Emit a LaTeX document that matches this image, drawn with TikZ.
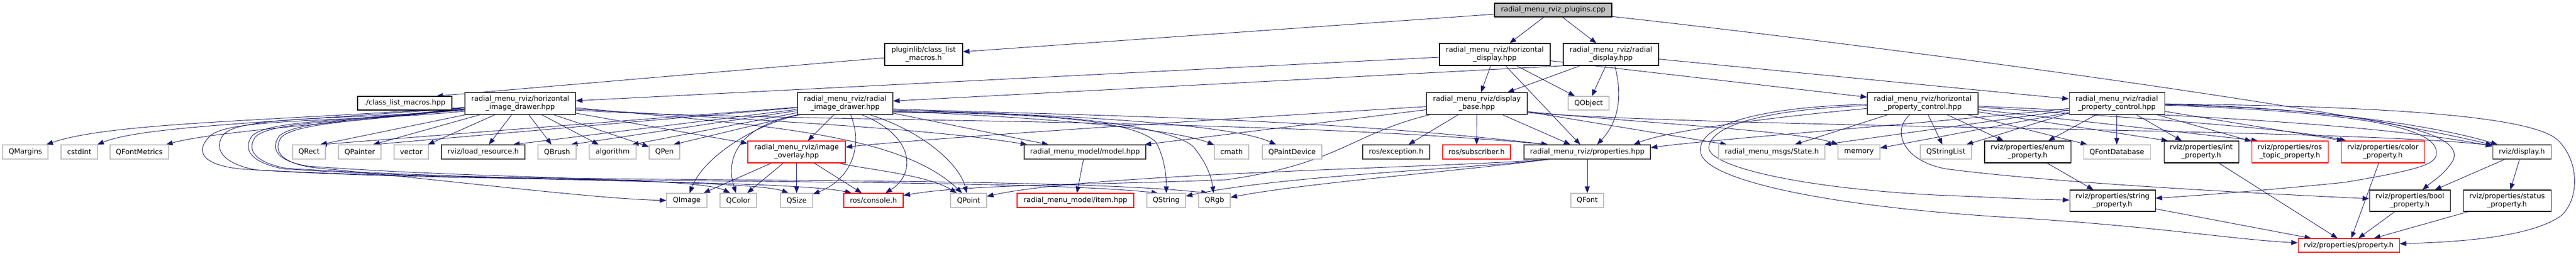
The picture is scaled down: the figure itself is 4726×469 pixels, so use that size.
\documentclass[tikz,border=0pt]{standalone}
\usepackage{fontspec}
\setmainfont{DejaVu Sans}
\usetikzlibrary{arrows.meta}
\definecolor{edgec}{HTML}{191970}
\definecolor{grayb}{HTML}{BFBFBF}
\definecolor{darkb}{HTML}{404040}
\definecolor{redb}{HTML}{FF0000}
\pgfdeclarelayer{bg}
\pgfsetlayers{bg,main}
\newcommand\mk[7]{\node[#1,minimum width=#5,minimum height=#6] (#2) at (#3,#4) {#7};}
\begin{document}
\begin{tikzpicture}[x=1pt,y=-1pt,
  nb/.style={draw, line width=1.1pt, inner sep=0pt, align=center, fill=white,
             font=\fontsize{13}{15}\selectfont},
  gn/.style={nb, draw=grayb},
  dn/.style={nb, draw=darkb},
  bn/.style={nb, draw=black},
  rn/.style={nb, draw=redb},
  rootn/.style={nb, draw=black, fill=grayb},
  dep/.style={draw=edgec, line width=0.9pt, -{Triangle[length=12pt,width=9pt]}}]
\useasboundingbox (0,0) rectangle (4726,469);
% row 0 / 1
\mk{rootn}{p}{2849.5}{18.5}{215}{25}{radial\_menu\_rviz\_plugins.cpp}
\mk{bn}{pl}{1694.5}{100}{143}{40}{pluginlib/class\_list\\\_macros.h}
\mk{bn}{hd}{2742.5}{100}{203}{40}{radial\_menu\_rviz/horizontal\\\_display.hpp}
\mk{bn}{rd}{2955.5}{100}{175}{40}{radial\_menu\_rviz/radial\\\_display.hpp}
% row 2
\mk{bn}{clm}{742.5}{189.5}{173}{25}{./class\_list\_macros.hpp}
\mk{gn}{qo}{2914.5}{189.5}{75}{25}{QObject}
\mk{dn}{hid}{954.5}{190}{203}{40}{radial\_menu\_rviz/horizontal\\\_image\_drawer.hpp}
\mk{dn}{rid}{1550.5}{190}{175}{40}{radial\_menu\_rviz/radial\\\_image\_drawer.hpp}
\mk{dn}{db}{2709.5}{190}{185}{40}{radial\_menu\_rviz/display\\\_base.hpp}
\mk{dn}{hpc}{3527.5}{190}{203}{40}{radial\_menu\_rviz/horizontal\\\_property\_control.hpp}
\mk{dn}{rpc}{3883.5}{190}{175}{40}{radial\_menu\_rviz/radial\\\_property\_control.hpp}
% row 3
\mk{gn}{qmargins}{46.5}{279}{83}{26}{QMargins}
\mk{gn}{cstdint}{145.5}{279}{67}{26}{cstdint}
\mk{gn}{qfm}{255.5}{279}{107}{26}{QFontMetrics}
\mk{gn}{qrect}{567}{279}{60}{26}{QRect}
\mk{gn}{qpainter}{660}{279}{78}{26}{QPainter}
\mk{gn}{vector}{754.5}{279}{63}{26}{vector}
\mk{dn}{lr}{886.5}{279}{153}{26}{rviz/load\_resource.h}
\mk{gn}{qbrush}{1022}{279}{70}{26}{QBrush}
\mk{gn}{algorithm}{1124}{279}{86}{26}{algorithm}
\mk{gn}{qpen}{1219}{279}{56}{26}{QPen}
\mk{rn}{io}{1461.5}{279}{179}{40}{radial\_menu\_rviz/image\\\_overlay.hpp}
\mk{dn}{model}{1990.5}{279}{223}{26}{radial\_menu\_model/model.hpp}
\mk{gn}{cmath}{2259.5}{279}{63}{26}{cmath}
\mk{gn}{qpd}{2370.5}{279}{109}{26}{QPaintDevice}
\mk{dn}{exc}{2561.5}{279}{123}{26}{ros/exception.h}
\mk{rn}{sub}{2709}{279}{124}{26}{ros/subscriber.h}
\mk{dn}{props}{2912}{279}{232}{26}{radial\_menu\_rviz/properties.hpp}
\mk{gn}{state}{3250.5}{279}{195}{26}{radial\_menu\_msgs/State.h}
\mk{gn}{memory}{3410.5}{279}{77}{26}{memory}
\mk{gn}{qsl}{3570}{279}{94}{26}{QStringList}
\mk{bn}{enum}{3720}{279}{158}{40}{rviz/properties/enum\\\_property.h}
\mk{gn}{qfd}{3883.5}{279}{123}{26}{QFontDatabase}
\mk{bn}{int}{4038.5}{279}{137}{40}{rviz/properties/int\\\_property.h}
\mk{rn}{ros}{4201}{279}{140}{40}{rviz/properties/ros\\\_topic\_property.h}
\mk{rn}{color}{4371.5}{279}{153}{40}{rviz/properties/color\\\_property.h}
\mk{dn}{disp}{4626.5}{279}{107}{26}{rviz/display.h}
% row 4
\mk{gn}{qimage}{1260}{368}{74}{26}{QImage}
\mk{gn}{qcolor}{1354.5}{368}{67}{26}{QColor}
\mk{gn}{qsize}{1461.5}{368}{59}{26}{QSize}
\mk{rn}{console}{1602.5}{368}{109}{26}{ros/console.h}
\mk{gn}{qpoint}{1777}{368}{66}{26}{QPoint}
\mk{rn}{item}{1973}{368}{214}{26}{radial\_menu\_model/item.hpp}
\mk{gn}{qstring}{2139.5}{368}{71}{26}{QString}
\mk{gn}{qrgb}{2228}{368}{58}{26}{QRgb}
\mk{gn}{qfont}{2912}{368}{60}{26}{QFont}
\mk{bn}{string}{3875.5}{368.5}{157}{39}{rviz/properties/string\\\_property.h}
\mk{bn}{bool}{4421}{368.5}{148}{39}{rviz/properties/bool\\\_property.h}
\mk{bn}{status}{4599.5}{368.5}{161}{39}{rviz/properties/status\\\_property.h}
% row 5
\mk{rn}{prop}{4309}{450.5}{186}{25}{rviz/properties/property.h}

\begin{pgfonlayer}{bg}
% root
\draw[dep] (p) -- (pl);
\draw[dep] (p) -- (hd);
\draw[dep] (p) -- (rd);
\draw[dep] (p) .. controls (3500,90) and (4300,200) .. (disp);
\draw[dep] (pl) -- ([xshift=-29]clm.north east);
% horizontal display
\draw[dep] (hd) -- (hid);
\draw[dep] (hd) -- (db);
\draw[dep] (hd) -- (qo);
\draw[dep] (hd) -- (props);
\draw[dep] (hd) -- (hpc);
% radial display
\draw[dep] ([xshift=4]rd.south west) -- (rid);
\draw[dep] (rd) -- (db);
\draw[dep] (rd) -- (qo);
\draw[dep] ([xshift=7]rd.south) .. controls (2978,180) and (2968,225) .. ([xshift=18]props.north);
\draw[dep] (rd) -- (rpc);
% horizontal image drawer
\draw[dep] (hid) .. controls (500,222) and (200,225) .. (qmargins);
\draw[dep] (hid) .. controls (500,225) and (260,232) .. (cstdint);
\draw[dep] (hid) .. controls (600,228) and (390,242) .. (qfm);
\draw[dep] (hid) -- ([xshift=-10]qrect.north east);
\draw[dep] (hid) -- ([xshift=-15]qpainter.north east);
\draw[dep] (hid) -- (vector);
\draw[dep] (hid) -- (lr);
\draw[dep] (hid) -- (qbrush);
\draw[dep] (hid) -- (algorithm);
\draw[dep] (hid) -- (qpen);
\draw[dep] (hid) -- (io);
\draw[dep] ([yshift=-12]hid.east) .. controls (1400,225) and (2300,215) .. ([xshift=-72]props.north);
\draw[dep] ([yshift=-10]hid.east) .. controls (1400,222) and (1700,235) .. ([xshift=6]model.north west);
\draw[dep] ([yshift=-8]hid.east) .. controls (1400,230) and (1650,245) .. ([xshift=-12]qpoint.north);
\draw[dep] ([yshift=-14]hid.west) .. controls (650,225) and (420,215) .. (385,250)
   .. controls (355,280) and (375,303) .. (440,310) .. controls (900,340) and (1900,320) .. ([xshift=-12]qrgb.north);
\draw[dep] ([yshift=-12]hid.west) .. controls (650,220) and (450,212) .. (412,245)
   .. controls (390,270) and (405,300) .. (470,312) .. controls (900,340) and (1850,325) .. ([xshift=-15]qstring.north);
\draw[dep] ([yshift=-10]hid.west) .. controls (650,222) and (490,220) .. (462,250)
   .. controls (445,275) and (460,298) .. (520,310) .. controls (900,335) and (1450,330) .. ([xshift=-40]console.north);
\draw[dep] ([yshift=-10]hid.west) .. controls (650,224) and (495,222) .. (468,252)
   .. controls (452,276) and (468,298) .. (525,309) .. controls (900,332) and (1380,330) .. ([xshift=-15]qsize.north);
\draw[dep] ([yshift=-8]hid.west) .. controls (680,220) and (540,222) .. (512,250)
   .. controls (495,275) and (510,296) .. (565,305) .. controls (900,330) and (1280,325) .. ([xshift=-15]qcolor.north);
\draw[dep] ([yshift=-8]hid.west) .. controls (680,222) and (545,224) .. (516,252)
   .. controls (500,276) and (515,298) .. (570,307) .. controls (900,340) and (1100,365) .. (qimage.west);
% radial image drawer
\draw[dep] (rid) -- ([xshift=-10]qrect.north east);
\draw[dep] (rid) -- ([xshift=-15]qpainter.north east);
\draw[dep] (rid) -- ([xshift=55]lr.north);
\draw[dep] (rid) -- ([xshift=-10]qbrush.north east);
\draw[dep] (rid) -- ([xshift=-8]algorithm.north east);
\draw[dep] (rid) -- ([xshift=-12]qpen.north east);
\draw[dep] (rid) -- (io);
\draw[dep] ([xshift=5]rid.south west) .. controls (1380,230) and (1290,290) .. (qimage);
\draw[dep] ([xshift=2]rid.south west) .. controls (1355,232) and (1330,290) .. (qcolor);
\draw[dep] ([xshift=10]rid.south) .. controls (1585,270) and (1560,330) .. (qsize);
\draw[dep] ([xshift=30]rid.south) .. controls (1680,250) and (1680,320) .. (console);
\draw[dep] ([xshift=45]rid.south) .. controls (1690,240) and (1760,300) .. (qpoint);
\draw[dep] (rid) -- (model);
\draw[dep] ([yshift=-14]rid.east) .. controls (1900,215) and (2150,235) .. (cmath);
\draw[dep] ([yshift=-12]rid.east) .. controls (1950,210) and (2260,228) .. (qpd);
\draw[dep] ([yshift=-16]rid.east) .. controls (1950,208) and (2080,225) .. (2120,260)
   .. controls (2135,285) and (2140,320) .. (qstring);
\draw[dep] ([yshift=-15]rid.east) .. controls (2000,205) and (2160,240) .. (2190,270)
   .. controls (2210,295) and (2222,320) .. (qrgb);
\draw[dep] ([yshift=-10]rid.east) .. controls (2000,213) and (2400,215) .. ([xshift=-72]props.north);
% image overlay
\draw[dep] (io) -- (qimage);
\draw[dep] (io) -- (qcolor);
\draw[dep] (io) -- (qsize);
\draw[dep] (io) -- (console);
\draw[dep] (io) .. controls (1580,310) and (1700,320) .. (qpoint);
% model
\draw[dep] (model) -- (item);
% display base
\draw[dep] (db) .. controls (2300,215) and (1750,250) .. (io);
\draw[dep] (db) -- (model);
\draw[dep] (db) .. controls (2480,245) and (2460,300) .. (2250,330)
   .. controls (2000,340) and (1780,338) .. (console);
\draw[dep] (db) -- (exc);
\draw[dep] (db) -- (sub);
\draw[dep] (db) -- (props);
\draw[dep] (db) -- (state);
\draw[dep] ([yshift=-15]db.east) .. controls (3000,225) and (3300,240) .. (memory);
\draw[dep] ([yshift=-17]db.east) .. controls (3200,236) and (4300,236) .. ([yshift=12]disp.west);
% horizontal property control
\draw[dep] (hpc) .. controls (3250,215) and (3060,240) .. ([xshift=85]props.north);
\draw[dep] (hpc) -- (state);
\draw[dep] (hpc) -- (qsl);
\draw[dep] (hpc) -- (enum);
\draw[dep] (hpc) -- (qfd);
\draw[dep] (hpc) -- ([xshift=8]int.north west);
\draw[dep] (hpc) -- ([xshift=12]ros.north west);
\draw[dep] (hpc) .. controls (3900,215) and (4200,235) .. ([xshift=10]color.north west);
\draw[dep] (hpc) .. controls (3950,210) and (4350,225) .. (disp);
\draw[dep] (hpc) .. controls (3260,200) and (3140,225) .. (3135,270)
   .. controls (3132,305) and (3300,345) .. (3550,358) .. controls (3650,362) and (3720,366) .. (string);
\draw[dep] (hpc) .. controls (3250,195) and (3110,225) .. (3120,280)
   .. controls (3128,330) and (3350,380) .. (3700,400) .. controls (3950,415) and (4100,440) .. (prop);
\draw[dep] (hpc) .. controls (3470,240) and (3490,295) .. (3570,310)
   .. controls (3800,340) and (4250,360) .. (bool);
% radial property control
\draw[dep] (rpc) .. controls (3550,225) and (3150,255) .. ([yshift=8]props.east);
\draw[dep] (rpc) -- (state);
\draw[dep] (rpc) -- (memory);
\draw[dep] ([yshift=3]rpc.south west) -- ([xshift=-10]qsl.north east);
\draw[dep] (rpc) -- (enum);
\draw[dep] (rpc) -- (qfd);
\draw[dep] (rpc) -- (int);
\draw[dep] (rpc) -- (ros);
\draw[dep] (rpc) -- ([xshift=5]color.north west);
\draw[dep] (rpc) .. controls (4200,195) and (4450,225) .. (disp);
\draw[dep] (rpc) .. controls (4300,200) and (4530,235) .. (4500,295)
   .. controls (4485,320) and (4460,335) .. (bool);
\draw[dep] (rpc) .. controls (4300,205) and (4470,230) .. (4470,280)
   .. controls (4470,300) and (4450,310) .. (4300,335) .. controls (4150,350) and (4020,360) .. (string);
\draw[dep] (rpc) .. controls (4400,195) and (4640,215) .. (4690,255)
   .. controls (4730,290) and (4735,360) .. (4700,395) .. controls (4640,440) and (4480,445) .. (prop);
% properties
\draw[dep] (props) -- (qfont);
\draw[dep] ([xshift=-70]props.south) .. controls (2700,310) and (2350,322) .. (qstring);
\draw[dep] ([xshift=-72]props.south) .. controls (2700,312) and (2400,335) .. (qrgb);
\draw[dep] ([xshift=-68]props.south) .. controls (2650,308) and (2000,318) .. (qpoint);
% rviz properties
\draw[dep] (enum) -- (string);
\draw[dep] (string) -- (prop);
\draw[dep] (int) -- (prop);
\draw[dep] (color) -- (prop);
\draw[dep] (bool) -- (prop);
\draw[dep] (status) -- (prop);
\draw[dep] (disp) -- (bool);
\draw[dep] (disp) -- (status);
\end{pgfonlayer}
\end{tikzpicture}
\end{document}
